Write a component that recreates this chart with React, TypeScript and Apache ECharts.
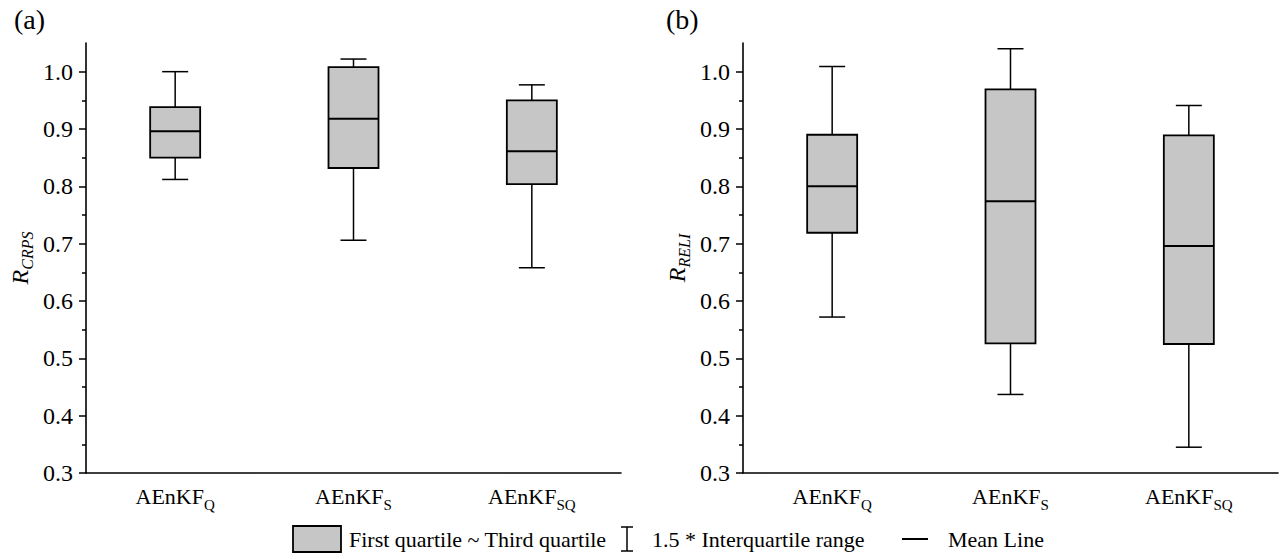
import React, { useEffect, useRef } from "react";
import * as echarts from "echarts";

const categories = ["Q", "S", "SQ"];
const crpsBoxes = [
  [0.812, 0.85, 0.896, 0.938, 1.0],
  [0.706, 0.832, 0.918, 1.008, 1.022],
  [0.658, 0.804, 0.861, 0.95, 0.977],
];
const reliBoxes = [
  [0.572, 0.719, 0.8, 0.89, 1.009],
  [0.437, 0.526, 0.774, 0.969, 1.04],
  [0.345, 0.525, 0.696, 0.889, 0.941],
];
const yMajorTicks = [0.3, 0.4, 0.5, 0.6, 0.7, 0.8, 0.9, 1.0];
const yMinorTicks = [0.35, 0.45, 0.55, 0.65, 0.75, 0.85, 0.95];
const yMin = 0.3;
const yMax = 1.05;
const panelLabels = ["(a)", "(b)"];
const yNames = ["CRPS", "RELI"];
const legendTexts = ["First quartile ~ Third quartile", "1.5 * Interquartile range", "Mean Line"];

const FONT = "Liberation Serif";

function renderBox(params: any, api: any) {
  const c = api.value(0);
  const lo = api.coord([c, api.value(1)]);
  const q1 = api.coord([c, api.value(2)]);
  const med = api.coord([c, api.value(3)]);
  const q3 = api.coord([c, api.value(4)]);
  const hi = api.coord([c, api.value(5)]);
  const x = lo[0];
  const hw = 25;
  const cw = 13;
  const ls = { stroke: "#000", lineWidth: 1.5 };
  return {
    type: "group",
    children: [
      { type: "line", shape: { x1: x, y1: q3[1], x2: x, y2: hi[1] }, style: ls },
      { type: "line", shape: { x1: x - cw, y1: hi[1], x2: x + cw, y2: hi[1] }, style: ls },
      { type: "line", shape: { x1: x, y1: q1[1], x2: x, y2: lo[1] }, style: ls },
      { type: "line", shape: { x1: x - cw, y1: lo[1], x2: x + cw, y2: lo[1] }, style: ls },
      {
        type: "rect",
        shape: { x: x - hw, y: q3[1], width: 2 * hw, height: q1[1] - q3[1] },
        style: { fill: "#c6c6c6", stroke: "#000", lineWidth: 1.8 },
      },
      { type: "line", shape: { x1: x - hw, y1: med[1], x2: x + hw, y2: med[1] }, style: { stroke: "#000", lineWidth: 2 } },
    ],
  };
}

export default function App() {
  const ref = useRef<HTMLDivElement>(null);
  useEffect(() => {
    if (!ref.current) return;
    const chart = echarts.init(ref.current, null, { renderer: "svg" });
    const grids = [
      { left: 86, top: 43, width: 535, height: 430 },
      { left: 743, top: 43, width: 535, height: 430 },
    ];
    const xAxes = grids.map((_, i) => ({
      type: "category",
      gridIndex: i,
      data: categories,
      boundaryGap: true,
      axisLine: { lineStyle: { color: "#000", width: 1.6 } },
      axisTick: { alignWithLabel: true, length: 7, lineStyle: { color: "#000", width: 1.5 } },
      axisLabel: {
        margin: 10,
        color: "#000",
        formatter: (v: string) => `{b|AEnKF}{s|${v}}`,
        rich: {
          b: { fontFamily: FONT, fontSize: 22, color: "#000", lineHeight: 26 },
          s: { fontFamily: FONT, fontSize: 15, color: "#000", lineHeight: 15, padding: [17, 0, 0, 0] },
        },
      },
      splitLine: { show: false },
    }));
    const yAxes: any[] = [];
    grids.forEach((_, i) => {
      yAxes.push({
        type: "value",
        gridIndex: i,
        min: yMin,
        max: yMax,
        position: "left",
        name: `{r|R}{s|${yNames[i]}}`,
        nameLocation: "middle",
        nameGap: 52,
        nameRotate: 90,
        nameTextStyle: {
          rich: {
            r: { fontFamily: FONT, fontStyle: "italic", fontSize: 24, color: "#000", lineHeight: 28 },
            s: { fontFamily: FONT, fontStyle: "italic", fontSize: 16, color: "#000", lineHeight: 16, padding: [14, 0, 0, 0] },
          },
        },
        axisLine: { show: true, lineStyle: { color: "#000", width: 1.6 } },
        axisTick: { show: true, customValues: yMajorTicks, length: 7, lineStyle: { color: "#000", width: 1.5 } },
        axisLabel: {
          customValues: yMajorTicks,
          margin: 13,
          color: "#000",
          fontFamily: FONT,
          fontSize: 24,
          formatter: (v: number) => v.toFixed(1),
        },
        splitLine: { show: false },
      });
      yAxes.push({
        type: "value",
        gridIndex: i,
        min: yMin,
        max: yMax,
        position: "left",
        axisLine: { show: false },
        axisTick: { show: true, customValues: yMinorTicks, length: 4, lineStyle: { color: "#000", width: 1.5 } },
        axisLabel: { show: false },
        splitLine: { show: false },
      });
    });

    const series = [crpsBoxes, reliBoxes].map((boxes, i) => ({
      type: "custom",
      xAxisIndex: i,
      yAxisIndex: i * 2,
      renderItem: renderBox,
      encode: { x: 0, y: [1, 2, 3, 4, 5] },
      data: boxes.map((b, j) => [j, ...b]),
      clip: false,
    }));

    const ly = 539;
    const lt = { fontFamily: FONT, fontSize: 22, fill: "#000", verticalAlign: "middle" };
    const graphic: any[] = [
      { type: "text", left: 14, top: 5, style: { text: panelLabels[0], fontFamily: FONT, fontSize: 28, fill: "#000" } },
      { type: "text", left: 666, top: 5, style: { text: panelLabels[1], fontFamily: FONT, fontSize: 28, fill: "#000" } },
      { type: "rect", shape: { x: 293, y: ly - 13, width: 48, height: 26 }, style: { fill: "#c6c6c6", stroke: "#000", lineWidth: 1.8 } },
      { type: "text", x: 349, y: ly, style: { ...lt, text: legendTexts[0] } },
      { type: "line", shape: { x1: 627, y1: ly - 12, x2: 627, y2: ly + 12 }, style: { stroke: "#000", lineWidth: 1.5 } },
      { type: "line", shape: { x1: 621, y1: ly - 12, x2: 633, y2: ly - 12 }, style: { stroke: "#000", lineWidth: 1.5 } },
      { type: "line", shape: { x1: 621, y1: ly + 12, x2: 633, y2: ly + 12 }, style: { stroke: "#000", lineWidth: 1.5 } },
      { type: "text", x: 652, y: ly, style: { ...lt, text: legendTexts[1] } },
      { type: "line", shape: { x1: 902, y1: ly, x2: 928, y2: ly }, style: { stroke: "#000", lineWidth: 2 } },
      { type: "text", x: 948, y: ly, style: { ...lt, text: legendTexts[2] } },
    ];

    chart.setOption({
      animation: false,
      backgroundColor: "#fff",
      textStyle: { fontFamily: FONT },
      grid: grids,
      xAxis: xAxes,
      yAxis: yAxes,
      series,
      graphic,
    });
    return () => chart.dispose();
  }, []);
  return <div ref={ref} style={{ width: 1284, height: 559, position: "absolute", left: 0, top: 0 }} />;
}
